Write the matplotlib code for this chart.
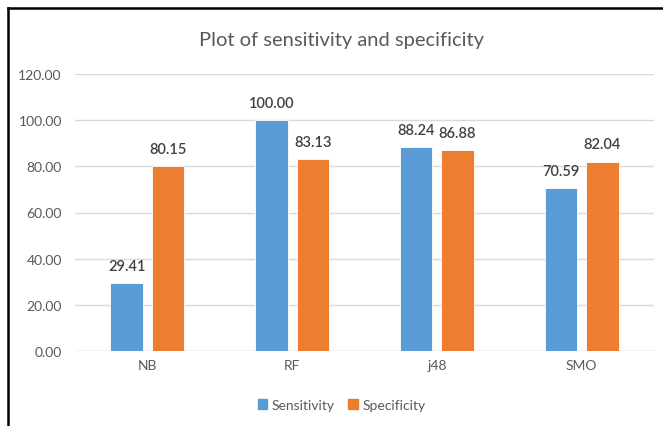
import matplotlib
matplotlib.use("Agg")
import matplotlib.pyplot as plt
import numpy as np
from matplotlib.lines import Line2D
from matplotlib.patches import Patch

categories = ["NB", "RF", "j48", "SMO"]
sensitivity = [29.41, 100.00, 88.24, 70.59]
specificity = [80.15, 83.13, 86.88, 82.04]
yticks = [0, 20, 40, 60, 80, 100, 120]

plt.rcParams['font.family'] = ['Lato', 'DejaVu Sans']

fig = plt.figure(figsize=(6.63, 4.27), dpi=100)
ax = fig.add_axes([0.1131, 0.1756, 0.8733, 0.6488])

x = np.arange(len(categories))
w = 0.225
off = 0.143
blue = "#5B9BD5"
orange = "#ED7D31"
b1 = ax.bar(x - off, sensitivity, w, color=blue, edgecolor="white", linewidth=0.6, zorder=3)
b2 = ax.bar(x + off, specificity, w, color=orange, edgecolor="white", linewidth=0.6, zorder=3)

for bars, vals in ((b1, sensitivity), (b2, specificity)):
    for r, v in zip(bars, vals):
        ax.text(r.get_x() + r.get_width() / 2, v + 4.5, f"{v:.2f}", ha="center", va="bottom",
                fontsize=10.5, color="#404040", fontweight="semibold")

ax.set_xlim(-0.5, 3.5)
ax.set_ylim(0, 120)
ax.set_yticks(yticks)
ax.set_yticklabels([f"{t:.2f}" for t in yticks])
ax.set_xticks(x)
ax.set_xticklabels(categories)
ax.tick_params(axis="both", length=0, labelsize=10, colors="#595959")
ax.tick_params(axis="y", pad=9.5)
ax.tick_params(axis="x", pad=6)
ax.grid(axis="y", color="#D9D9D9", linewidth=1, zorder=0)
for s in ax.spines.values():
    s.set_visible(False)
ax.axhline(0, color="#D9D9D9", linewidth=1, zorder=1)

fig.text(0.515, 0.905, "Plot of sensitivity and specificity", ha="center", va="center",
         fontsize=14.5, color="#595959")

handles = [Patch(color=blue), Patch(color=orange)]
fig.legend(handles, ["Sensitivity", "Specificity"], loc="center", bbox_to_anchor=(0.515, 0.05),
           ncol=2, frameon=False, fontsize=10, handlelength=0.7, handleheight=0.7,
           handletextpad=0.3, columnspacing=1.0, labelcolor="#595959")

fig.add_artist(Line2D([0.012, 0.012], [0, 0.979], transform=fig.transFigure, color="black", linewidth=1.8))
fig.add_artist(Line2D([0.012, 1.0], [0.979, 0.979], transform=fig.transFigure, color="black", linewidth=1.8))

fig.savefig("out.png", dpi=100)
